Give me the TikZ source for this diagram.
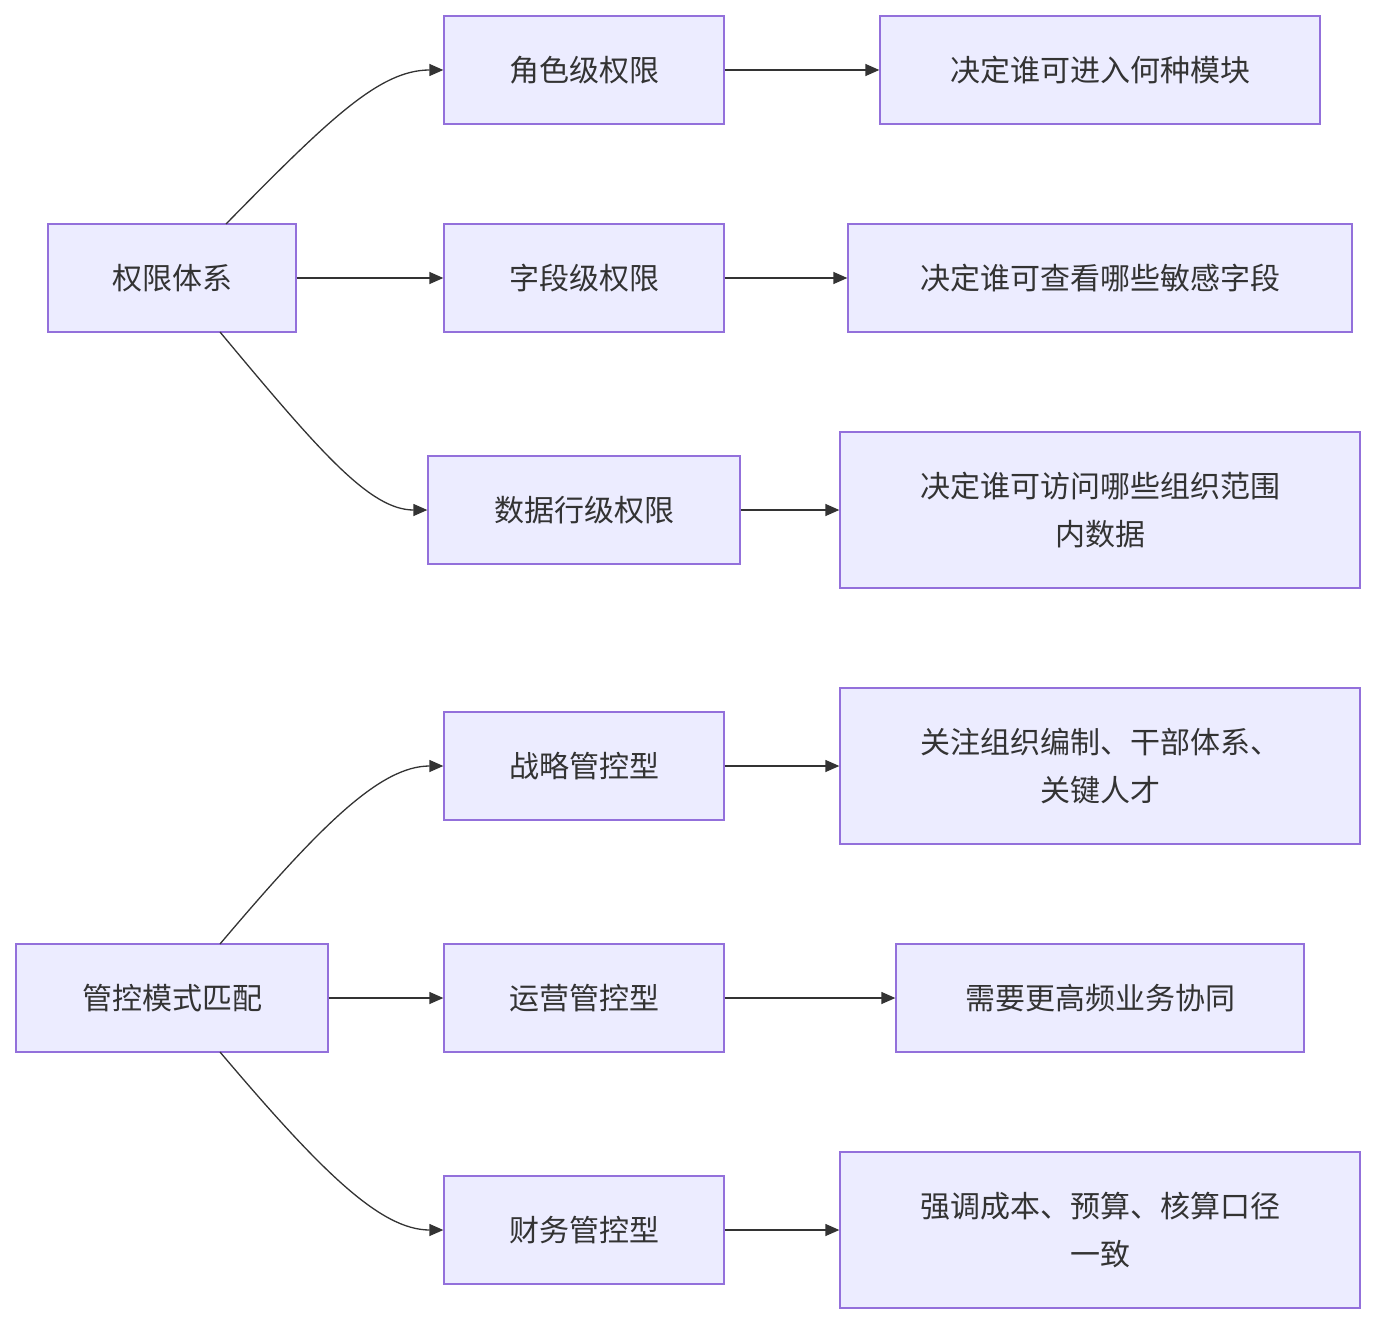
\documentclass[tikz,border=0pt]{standalone}
\usepackage{fontspec}
\setmainfont{Noto Sans CJK SC}
\usetikzlibrary{arrows.meta}
\definecolor{nfill}{HTML}{ECECFF}
\definecolor{nline}{HTML}{9370DB}
\definecolor{txt}{HTML}{333333}
\begin{document}
\begin{tikzpicture}[x=1pt,y=-1pt,
  box/.style={draw=nline,fill=nfill,line width=1.3pt,text=txt,align=center,inner sep=0pt,
    font=\fontsize{30}{48}\selectfont},
  arr/.style={draw=txt,line width=1.3pt,-{Triangle[length=14pt,width=12pt]}}]
\useasboundingbox (0,0) rectangle (1376,1324);
\newcommand{\bx}[6]{\node[box,minimum width=#4-#2,minimum height=#5-#3] (#1) at ({(#2+#4)/2},{(#3+#5)/2}) {#6};}
\bx{A}{48}{224}{296}{332}{权限体系}
\bx{B1}{444}{16}{724}{124}{角色级权限}
\bx{C1}{880}{16}{1320}{124}{决定谁可进入何种模块}
\bx{B2}{444}{224}{724}{332}{字段级权限}
\bx{C2}{848}{224}{1352}{332}{决定谁可查看哪些敏感字段}
\bx{B3}{428}{456}{740}{564}{数据行级权限}
\bx{C3}{840}{432}{1360}{588}{决定谁可访问哪些组织范围\\内数据}
\bx{M}{16}{944}{328}{1052}{管控模式匹配}
\bx{D1}{444}{712}{724}{820}{战略管控型}
\bx{E1}{840}{688}{1360}{844}{关注组织编制、干部体系、\\关键人才}
\bx{D2}{444}{944}{724}{1052}{运营管控型}
\bx{E2}{896}{944}{1304}{1052}{需要更高频业务协同}
\bx{D3}{444}{1176}{724}{1284}{财务管控型}
\bx{E3}{840}{1152}{1360}{1308}{强调成本、预算、核算口径\\一致}
\coordinate (a1) at (226,224);
\coordinate (a3) at (220,332);
\coordinate (m1) at (220,944);
\coordinate (m3) at (220,1052);
\draw[arr] (a1) .. controls (330,118) and (380,70) .. (B1.west);
\draw[arr] (A) -- (B2);
\draw[arr] (a3) .. controls (320,452) and (370,510) .. (B3.west);
\draw[arr] (m1) .. controls (320,826) and (380,766) .. (D1.west);
\draw[arr] (M) -- (D2);
\draw[arr] (m3) .. controls (320,1170) and (380,1230) .. (D3.west);
\draw[arr] (B1) -- (C1);
\draw[arr] (B2) -- (C2);
\draw[arr] (B3) -- (C3);
\draw[arr] (D1) -- (E1);
\draw[arr] (D2) -- (E2);
\draw[arr] (D3) -- (E3);
\end{tikzpicture}
\end{document}
